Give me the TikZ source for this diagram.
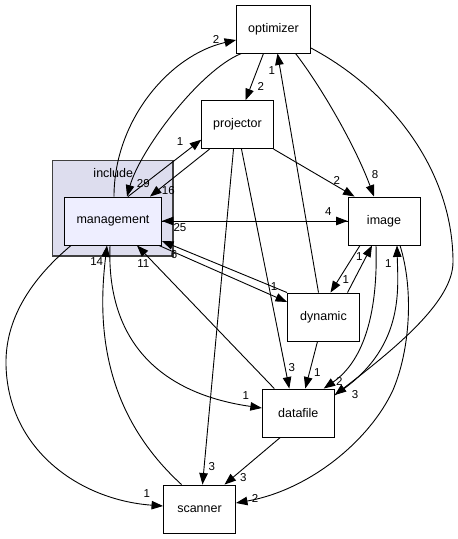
\documentclass[tikz,border=0pt]{standalone}
\usepackage{fontspec}
\setmainfont{Liberation Sans}
\usetikzlibrary{arrows.meta,calc}
\definecolor{clfill}{HTML}{DDDDEE}
\definecolor{clborder}{HTML}{404040}
\definecolor{mgfill}{HTML}{EEEEFF}
\tikzset{
  box/.style={draw=black, fill=white, line width=0.9pt, inner sep=0pt,
    minimum height=48pt, font=\fontsize{12.5}{14}\selectfont},
  edge/.style={-{Triangle[length=11.5pt,width=8.5pt]}, line width=0.9pt, draw=black},
  lbl/.style={inner sep=0pt, font=\fontsize{11.5}{12}\selectfont}
}
\begin{document}
\begin{tikzpicture}[x=1pt,y=-1pt]
\useasboundingbox (0,0) rectangle (458,539);
% cluster
\draw[fill=clfill, draw=clborder, line width=1.2pt] (52.5,160.5) rectangle (173,256);
\node[lbl, font=\fontsize{12.5}{14}\selectfont] (inc) at (113.3,172.7) {include};
% nodes
\node[box, minimum width=74pt] (opt) at (273.5,29) {optimizer};
\node[box, minimum width=71.5pt] (proj) at (237.5,124.7) {projector};
\node[box, minimum width=72pt] (img) at (384,221) {image};
\node[box, minimum width=97pt, fill=mgfill] (mgmt) at (113,221) {management};
\node[box, minimum width=72pt] (dyn) at (323.5,317) {dynamic};
\node[box, minimum width=72pt] (data) at (298.3,413) {datafile};
\node[box, minimum width=72pt] (scan) at (199.5,509) {scanner};
% edges
\draw[edge] ($(mgmt.north)+(1,0)$) .. controls (114,120) and (170,55) .. ($(opt.west)+(0,11)$);
\draw[edge] ($(opt.south)+(-32,0)$) .. controls (200,70) and (140,150) .. ($(mgmt.north)+(14,0)$);
\draw[edge] ($(mgmt.north)+(15,0)$) -- ($(proj.west)+(0,15)$);
\draw[edge] ($(proj.south)+(-28,0)$) -- ($(mgmt.north)+(37,0)$);
\draw[edge] (proj.south east) -- ($(img.north west)+(7,0)$);
\draw[edge] ($(opt.south)+(-10,0)$) -- ($(proj.north)+(8,0)$);
\draw[edge] ($(opt.south)+(22,0)$) .. controls (320,85) and (355,145) .. ($(img.north)+(-10,0)$);
\draw[edge] ($(opt.east)+(0,19)$) .. controls (390,90) and (453,170) .. (453,262)
   .. controls (453,300) and (400,345) .. ($(data.east)+(0,-18)$);
\draw[edge] (mgmt.east) -- (img.west);
\draw[edge] (img.west) -- (mgmt.east);
\draw[edge] (dyn.north west) -- ($(mgmt.east)+(0,20)$);
\draw[edge] ($(mgmt.south east)+(-3,0)$) -- ($(dyn.west)+(0,-15)$);
\draw[edge] ($(data.north)+(-24,0)$) -- ($(mgmt.south)+(24,0)$);
\draw[edge] ($(scan.north)+(-18,0)$) .. controls (100,410) and (98,320) .. ($(mgmt.south)+(-6,0)$);
\draw[edge] ($(mgmt.south west)+(7,0)$) .. controls (30,280) and (5,320) .. (6,365)
   .. controls (8,450) and (80,500) .. ($(scan.west)+(0,-3)$);
\draw[edge] ($(mgmt.south)+(-3,0)$) .. controls (106,350) and (170,395) .. ($(data.west)+(0,-5)$);
\draw[edge] ($(proj.south)+(-4,0)$) -- ($(scan.north)+(3,0)$);
\draw[edge] ($(proj.south)+(4,0)$) -- ($(data.north)+(-9,0)$);
\draw[edge] ($(dyn.north)+(-5,0)$) -- ($(opt.south)+(4,0)$);
\draw[edge] ($(dyn.south)+(-6,0)$) -- ($(data.north)+(7,0)$);
\draw[edge] ($(img.south)+(-24,0)$) -- ($(dyn.north)+(7,0)$);
\draw[edge] ($(dyn.north)+(24,0)$) -- ($(img.south)+(-12,0)$);
\draw[edge] ($(img.south)+(-8,0)$) .. controls (378,310) and (365,360) .. ($(data.north east)+(-11,0)$);
\draw[edge] ($(data.east)+(0,-18)$) .. controls (405,350) and (398,290) .. ($(img.south)+(13,0)$);
\draw[edge] ($(img.south)+(16,0)$) .. controls (414,290) and (410,350) .. (393,390)
   .. controls (370,440) and (310,490) .. ($(scan.east)+(0,-6)$);
\draw[edge] ($(data.south)+(-18,0)$) -- ($(scan.north)+(25,0)$);
% edge labels
\node[lbl] (l1) at (216,39) {2};
\node[lbl] (l2) at (143.3,183.3) {29};
\node[lbl] (l3) at (180,141.7) {1};
\node[lbl] (l4) at (168.3,190.7) {16};
\node[lbl] (l5) at (336.7,180) {2};
\node[lbl] (l6) at (260.7,86) {2};
\node[lbl] (l7) at (375,175) {8};
\node[lbl] (l8) at (355,395) {3};
\node[lbl] (l9) at (328.3,211.7) {4};
\node[lbl] (l10) at (180,228) {25};
\node[lbl] (l11) at (174,255) {6};
\node[lbl] (l12) at (274,286.7) {1};
\node[lbl] (l13) at (143.3,264) {11};
\node[lbl] (l14) at (96.7,261.7) {14};
\node[lbl] (l15) at (146.7,493.3) {1};
\node[lbl] (l16) at (245.7,395.7) {1};
\node[lbl] (l17) at (211.7,466.7) {3};
\node[lbl] (l18) at (291.7,367.3) {3};
\node[lbl] (l19) at (271.7,71) {1};
\node[lbl] (l20) at (317.3,372.7) {1};
\node[lbl] (l21) at (345.7,280) {1};
\node[lbl] (l22) at (359.3,256.7) {1};
\node[lbl] (l23) at (339.3,381.7) {2};
\node[lbl] (l24) at (388.3,264) {1};
\node[lbl] (l25) at (255,498.3) {2};
\node[lbl] (l26) at (243.3,477.3) {3};
\end{tikzpicture}
\end{document}
